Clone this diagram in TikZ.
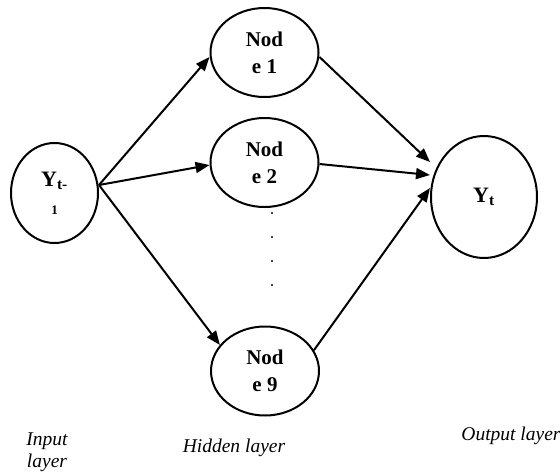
\documentclass[tikz,border=0pt]{standalone}
\usepackage{fontspec}
\setmainfont{Liberation Serif}
\usetikzlibrary{shapes.geometric,arrows.meta}
\begin{document}
\begin{tikzpicture}[x=1pt,y=-1pt,
  neuron/.style={ellipse,draw,line width=2pt,inner sep=0pt,minimum width=108pt,minimum height=89pt,align=center,font=\fontsize{21}{27}\selectfont\bfseries},
  link/.style={line width=2pt,-{Triangle[length=14pt,width=11pt]}},
  lbl/.style={font=\fontsize{19.5}{22}\selectfont\itshape,align=center},
  dot/.style={circle,fill,inner sep=0pt,minimum size=2.4pt}]
\useasboundingbox (0,0) rectangle (560,472);
\node[neuron,minimum width=87pt,minimum height=100pt,font=\fontsize{22}{28}\selectfont\bfseries] (in) at (54.5,193) {Y\textsubscript{t-}\\{\fontsize{13}{13}\selectfont 1}};
\node[neuron] (n1) at (264.5,52.5) {Nod\\e 1};
\node[neuron] (n2) at (264.5,162.5) {Nod\\e 2};
\node[neuron] (n9) at (265,371) {Nod\\e 9};
\node[neuron,minimum width=106pt,minimum height=122pt,font=\fontsize{22}{28}\selectfont\bfseries] (out) at (484,197) {Y\textsubscript{t}};
\node[dot] (d1) at (272,213) {};
\node[dot] (d2) at (272,237) {};
\node[dot] (d3) at (272,261) {};
\node[dot] (d4) at (272,285) {};
\draw[link] ([yshift=8pt]in.east) -- ([yshift=-4.5pt]n1.west);
\draw[link] ([yshift=8pt]in.east) -- ([yshift=-2.5pt]n2.west);
\draw[link] ([yshift=8pt]in.east) -- (n9.150);
\draw[link] ([yshift=-4.5pt]n1.east) -- ([yshift=35pt]out.west);
\draw[link] ([yshift=-1.5pt]n2.east) -- ([yshift=22pt]out.west);
\draw[link] (n9.23) -- ([yshift=9pt]out.west);
\node[lbl] (lin) at (47,452) {Input\\layer};
\node[lbl] (lhid) at (234,448) {Hidden layer};
\node[lbl] (lout) at (511,436) {Output layer};
\end{tikzpicture}
\end{document}
